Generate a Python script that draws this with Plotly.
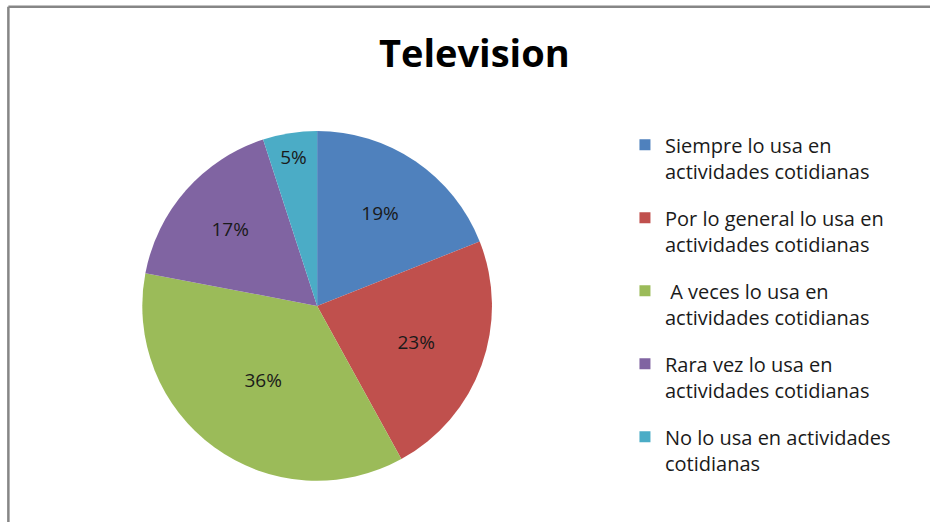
"""Pie chart: Television usage."""

import plotly.graph_objects as go

labels = [
    "Siempre lo usa en<br>actividades cotidianas",
    "Por lo general lo usa en<br>actividades cotidianas",
    " A veces lo usa en<br>actividades cotidianas",
    "Rara vez lo usa en<br>actividades cotidianas",
    "No lo usa en actividades<br>cotidianas",
]
values = [19, 23, 36, 17, 5]
colors = ["#4F81BD", "#C0504D", "#9BBB59", "#8064A2", "#4BACC6"]

font_family = "'Open Sans', Lato, sans-serif"

fig = go.Figure()
fig.add_trace(
    go.Pie(
        labels=labels,
        values=values,
        sort=False,
        direction="clockwise",
        rotation=0,
        marker=dict(colors=colors, line=dict(width=0)),
        textinfo="percent",
        textposition="inside",
        insidetextorientation="horizontal",
        textfont=dict(size=19, color="#1a1a1a", family=font_family),
        domain=dict(x=[0.153, 0.529], y=[0.079, 0.749]),
        hoverinfo="skip",
        showlegend=False,
    )
)

# legend entries as separate groups so the gap between them can be set
for lab, col in zip(labels, colors):
    fig.add_trace(
        go.Scatter(
            x=[None],
            y=[None],
            mode="markers",
            name=lab,
            legendgroup=lab,
            marker=dict(symbol="square", size=11, color=col),
            hoverinfo="skip",
        )
    )

fig.update_layout(
    width=930,
    height=522,
    margin=dict(l=0, r=0, t=0, b=0),
    paper_bgcolor="white",
    plot_bgcolor="white",
    xaxis=dict(visible=False),
    yaxis=dict(visible=False),
    font=dict(family=font_family, color="#1a1a1a"),
    title=dict(
        text="<b>Television</b>",
        x=0.51,
        xanchor="center",
        y=0.897,
        yanchor="middle",
        yref="container",
        font=dict(size=38, color="black", family=font_family),
    ),
    showlegend=True,
    legend=dict(
        x=0.672,
        xanchor="left",
        y=0.76,
        yanchor="top",
        valign="top",
        traceorder="grouped",
        tracegroupgap=18,
        font=dict(size=20, color="#1a1a1a", family=font_family),
        itemwidth=30,
        bgcolor="rgba(0,0,0,0)",
    ),
    shapes=[
        dict(type="line", xref="paper", yref="paper", x0=0.009, x1=1.0, y0=0.987, y1=0.987,
             line=dict(color="#868686", width=2.5)),
        dict(type="line", xref="paper", yref="paper", x0=0.009, x1=0.009, y0=0.0, y1=0.987,
             line=dict(color="#868686", width=2.5)),
    ],
)

fig.write_html(
    "out.html",
    config={"displayModeBar": False},
    post_script="document.body.style.margin='0';",
)
